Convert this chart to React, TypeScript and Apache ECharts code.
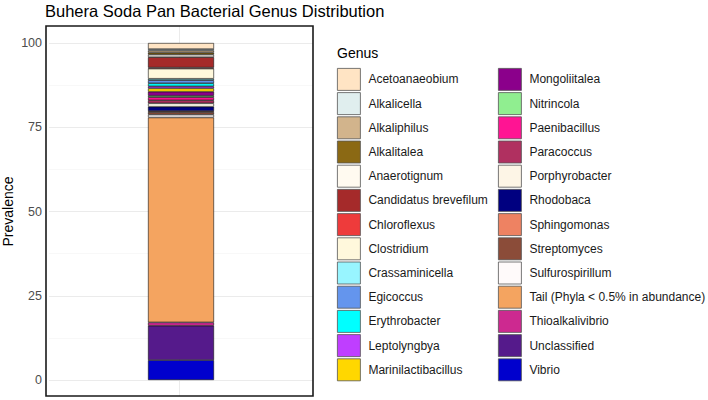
import React, { useEffect, useRef } from "react";
import * as echarts from "echarts";

const genera: string[] = [
  "Acetoanaeobium", "Alkalicella", "Alkaliphilus", "Alkalitalea", "Anaerotignum",
  "Candidatus brevefilum", "Chloroflexus", "Clostridium", "Crassaminicella", "Egicoccus",
  "Erythrobacter", "Leptolyngbya", "Marinilactibacillus", "Mongoliitalea", "Nitrincola",
  "Paenibacillus", "Paracoccus", "Porphyrobacter", "Rhodobaca", "Sphingomonas",
  "Streptomyces", "Sulfurospirillum", "Tail (Phyla < 0.5% in abundance)", "Thioalkalivibrio",
  "Unclassified", "Vibrio",
];

const prevalence: number[] = [
  1.8, 0.45, 0.6, 0.6, 0.75,
  3.1, 0.3, 3.0, 0.45, 0.9,
  0.9, 0.6, 1.0, 1.2, 0.45,
  0.9, 0.9, 1.0, 1.3, 0.3,
  0.75, 0.85, 60.8, 1.0,
  10.2, 5.9,
];

const colors: string[] = [
  "#FFE4C4", "#E0EEEE", "#D2B48C", "#8B6914", "#FFFAF0",
  "#A52A2A", "#EE3B3B", "#FFF8DC", "#98F5FF", "#6495ED",
  "#00FFFF", "#BF3EFF", "#FFD700", "#8B008B", "#90EE90",
  "#FF1493", "#B03060", "#FDF5E6", "#000080", "#EE8262",
  "#8B4C39", "#FFFAFA", "#F4A460", "#CD2990",
  "#551A8B", "#0000CD",
];

const sampleCategories: string[] = ["Buhera"];
const yTicks = { min: 0, max: 100, interval: 25 };

const PANEL = { left: 46, top: 26, right: 313, bottom: 396 };
const FONT = "Liberation Sans, Arial, sans-serif";

export default function App() {
  const ref = useRef<HTMLDivElement>(null);
  useEffect(() => {
    document.body.style.margin = "0";
    if (!ref.current) return;
    const chart = echarts.init(ref.current, undefined, { renderer: "svg" });

    // stack bottom-up: last genus at bottom
    const order = genera.map((_, i) => i).reverse();
    const series = order.map((i) => ({
      name: genera[i],
      type: "bar",
      stack: "total",
      barWidth: 66,
      data: [prevalence[i]],
      itemStyle: { color: colors[i], borderColor: "#111", borderWidth: 0.6 },
      emphasis: { disabled: true },
    }));

    const legendBase = {
      orient: "vertical",
      itemWidth: 23,
      itemHeight: 22,
      itemGap: 1.4,
      padding: 0,
      icon: "rect",
      selectedMode: false,
      itemStyle: { borderColor: "#555", borderWidth: 0.8 },
      textStyle: { fontSize: 12, color: "#1a1a1a", fontFamily: FONT, padding: [0, 0, 0, 3] },
    };

    chart.setOption({
      animation: false,
      backgroundColor: "#fff",
      textStyle: { fontFamily: FONT },
      title: {
        text: "Buhera Soda Pan Bacterial Genus Distribution",
        left: 45,
        top: 2,
        padding: 0,
        textStyle: { fontSize: 16.5, fontWeight: "normal", color: "#000", fontFamily: FONT },
      },
      grid: { left: PANEL.left, right: 708 - PANEL.right, top: 43, bottom: 400 - 380, containLabel: false },
      xAxis: {
        type: "category",
        data: sampleCategories,
        axisLine: { show: false },
        axisTick: { show: false },
        axisLabel: { show: false },
        splitLine: { show: false },
      },
      yAxis: {
        type: "value",
        min: yTicks.min,
        max: yTicks.max,
        interval: yTicks.interval,
        name: "Prevalence",
        nameLocation: "middle",
        nameGap: 34,
        nameTextStyle: { fontSize: 14, color: "#000" },
        axisLine: { show: false },
        axisTick: { show: false },
        axisLabel: { fontSize: 12.5, color: "#4D4D4D", margin: 7 },
        splitLine: { lineStyle: { color: "#EBEBEB", width: 1 } },
        minorTick: { show: false, splitNumber: 2 },
        minorSplitLine: { show: true, lineStyle: { color: "#F4F4F4", width: 0.6 } },
      },
      legend: [
        { ...legendBase, left: 337, top: 68, data: genera.slice(0, 13) },
        { ...legendBase, left: 498, top: 68, data: genera.slice(13) },
      ],
      graphic: [
        {
          type: "line",
          z: -1,
          shape: { x1: (PANEL.left + PANEL.right) / 2, y1: PANEL.top, x2: (PANEL.left + PANEL.right) / 2, y2: PANEL.bottom },
          style: { stroke: "#EBEBEB", lineWidth: 1 },
        },
        {
          type: "rect",
          z: 100,
          shape: { x: PANEL.left, y: PANEL.top, width: PANEL.right - PANEL.left, height: PANEL.bottom - PANEL.top },
          style: { fill: "none", stroke: "#1a1a1a", lineWidth: 1.6 },
        },
        {
          type: "text",
          x: 337,
          y: 53,
          style: { text: "Genus", fontSize: 14, fill: "#000", verticalAlign: "middle", fontFamily: FONT },
        },
      ],
      series,
    });
    return () => chart.dispose();
  }, []);
  return <div ref={ref} style={{ width: 708, height: 400 }} />;
}
